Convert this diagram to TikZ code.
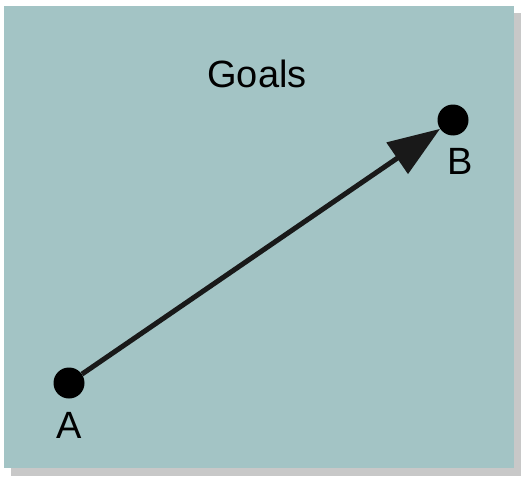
\documentclass[tikz,border=0pt]{standalone}
\usepackage{fontspec}
\setmainfont{Liberation Sans}
\usetikzlibrary{arrows.meta}
\definecolor{goalteal}{RGB}{163,196,197}
\definecolor{shadowgray}{RGB}{200,200,200}

\begin{document}
\begin{tikzpicture}[
    x=1pt,
    y=-1pt,
    every node/.style={font=\fontsize{38}{44}\selectfont},
    dot/.style={circle,fill=black,inner sep=0pt,minimum size=31pt}
]

\useasboundingbox (0,0) rectangle (521,476);

%------------------------------------------------------------
% Panel
%------------------------------------------------------------

\fill[shadowgray]
(11,13) rectangle (521,476);

\fill[goalteal]
(4,6) rectangle (514,468);

\node (goals)
at (257,74)
{Goals};

%------------------------------------------------------------
% Points
%------------------------------------------------------------

\node[dot] (A) at (69,383) {};
\node[dot] (B) at (453,120) {};

\node[below=10pt] (labA)
at (A.south)
{A};

\node[below=14pt,xshift=-4pt] (labB)
at (B.south east)
{B};

%------------------------------------------------------------
% Arrow
%------------------------------------------------------------

\draw[line width=5pt,-{Triangle[length=52pt,width=37pt]},color=black!90]
(A)--(B);

\end{tikzpicture}
\end{document}
